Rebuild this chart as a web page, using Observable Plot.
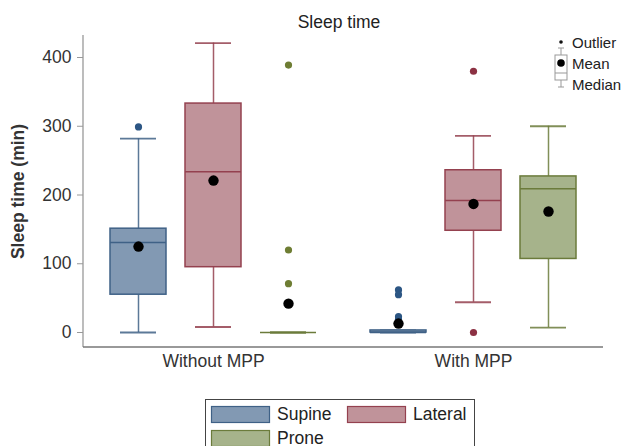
<!DOCTYPE html>
<html>
<head>
<meta charset="utf-8">
<script src="https://cdn.jsdelivr.net/npm/d3@7"></script>
<script src="https://cdn.jsdelivr.net/npm/@observablehq/plot@0.6"></script>
<style>
  html, body { margin: 0; padding: 0; background: #fff; overflow: hidden; }
  #wrap { position: relative; width: 625px; height: 446px; font-family: "Liberation Sans", Arial, sans-serif; }
  #chart { position: absolute; left: 0; top: 0; }
  #overlay { position: absolute; left: 0; top: 0; pointer-events: none; }
  [aria-label="y-axis label"] text { font-weight: bold; }
</style>
</head>
<body>
<div id="wrap">
  <div id="chart"></div>
  <svg id="overlay" width="625" height="446"></svg>
</div>
<script>
// ---- data ----
const title = "Sleep time";
const yLabel = "Sleep time (min)";
const groups = ["Without MPP", "With MPP"];
const positions = ["Supine", "Lateral", "Prone"];
const yTicks = [0, 100, 200, 300, 400];

// order: Without MPP (Supine, Lateral, Prone), With MPP (Supine, Lateral, Prone)
const boxGroup    = ["Without MPP", "Without MPP", "Without MPP", "With MPP", "With MPP", "With MPP"];
const boxPosition = ["Supine", "Lateral", "Prone", "Supine", "Lateral", "Prone"];
const whiskerLow  = [0,   8,   0, 0,   44,  7];
const q1          = [55,  95,  0, 0,   148, 107];
const median      = [131, 234, 0, 0,   192, 209];
const q3          = [151, 333, 0, 3,   236, 227];
const whiskerHigh = [282, 421, 0, 3,   286, 300];
const means       = [125, 221, 42, 13, 187, 176];

const outlierGroup    = ["Without MPP", "Without MPP", "Without MPP", "Without MPP", "With MPP", "With MPP", "With MPP", "With MPP", "With MPP", "With MPP"];
const outlierPosition = ["Supine", "Prone", "Prone", "Prone", "Supine", "Supine", "Supine", "Supine", "Lateral", "Lateral"];
const outlierValue    = [299, 389, 120, 71, 62, 55, 23, 19, 380, 0];

// styles
const fillColors    = ["#8299b3", "#c0939a", "#a6b38b"];
const strokeColors  = ["#3f6186", "#94414f", "#6b7b3b"];
const outlierColors = ["#2c5684", "#8c3143", "#6e7d33"];

// ---- tables ----
const boxes = boxGroup.map((g, i) => ({
  group: g, position: boxPosition[i],
  lo: whiskerLow[i], q1: q1[i], median: median[i], q3: q3[i], hi: whiskerHigh[i], mean: means[i]
}));
const outliers = outlierValue.map((v, i) => ({group: outlierGroup[i], position: outlierPosition[i], value: v}));

const chart = Plot.plot({
  width: 625,
  height: 380,
  marginLeft: 83,
  marginRight: 22,
  marginTop: 35,
  marginBottom: 33,
  style: {fontFamily: "Liberation Sans, Arial, sans-serif", fontSize: "17.5px", color: "#333", background: "white"},
  fx: {domain: groups, padding: 0, label: null},
  x: {domain: positions, paddingInner: 0.247, paddingOuter: 0.353, axis: null},
  y: {domain: [-21.8, 432]},
  marks: [
    Plot.axisY({ticks: yTicks, tickSize: 6, tickPadding: 6, stroke: "#999", fill: "#333",
      label: yLabel, labelAnchor: "center", labelOffset: 72, labelArrow: "none"}),
    Plot.axisFx({anchor: "bottom", tickSize: 0, tickPadding: 7, fill: "#333", label: null}),
    // whiskers
    Plot.ruleX(boxes, {fx: "group", x: "position", y1: "q3", y2: "hi",
      stroke: d => strokeColors[positions.indexOf(d.position)], strokeWidth: 1.5, strokeOpacity: 0.85}),
    Plot.ruleX(boxes, {fx: "group", x: "position", y1: "lo", y2: "q1",
      stroke: d => strokeColors[positions.indexOf(d.position)], strokeWidth: 1.5, strokeOpacity: 0.85}),
    Plot.tickY(boxes, {fx: "group", x: "position", y: "hi", insetLeft: 10, insetRight: 10,
      stroke: d => strokeColors[positions.indexOf(d.position)], strokeWidth: 1.8, strokeOpacity: 0.85}),
    Plot.tickY(boxes, {fx: "group", x: "position", y: "lo", insetLeft: 10, insetRight: 10,
      stroke: d => strokeColors[positions.indexOf(d.position)], strokeWidth: 1.8, strokeOpacity: 0.85}),
    // boxes
    Plot.barY(boxes, {fx: "group", x: "position", y1: "q1", y2: "q3",
      fill: d => fillColors[positions.indexOf(d.position)],
      stroke: d => strokeColors[positions.indexOf(d.position)], strokeWidth: 1.5}),
    Plot.tickY(boxes, {fx: "group", x: "position", y: "median",
      stroke: d => strokeColors[positions.indexOf(d.position)], strokeWidth: 1.5}),
    // outliers
    Plot.dot(outliers, {fx: "group", x: "position", y: "value", r: 3.6,
      fill: d => outlierColors[positions.indexOf(d.position)], stroke: "none"}),
    // means
    Plot.dot(boxes, {fx: "group", x: "position", y: "mean", r: 5.2, fill: "black", stroke: "none"})
  ]
});
document.getElementById("chart").appendChild(chart);

// ---- overlay: axis lines (from the plot's scales), title, key glyph, legend ----
const ov = d3.select("#overlay");
const font = "Liberation Sans, Arial, sans-serif";
const yRange = chart.scale("y").range;       // [bottom, top]
const fxRange = chart.scale("fx").range;     // [left, right]
const yBottom = Math.max(...yRange), yTop = Math.min(...yRange);
const xLeft = Math.min(...fxRange), xRight = Math.max(...fxRange);
ov.append("line").attr("x1", xLeft).attr("x2", xLeft).attr("y1", yTop).attr("y2", yBottom)
  .attr("stroke", "#999").attr("stroke-width", 1.3);
ov.append("line").attr("x1", xLeft).attr("x2", xRight).attr("y1", yBottom).attr("y2", yBottom)
  .attr("stroke", "#777").attr("stroke-width", 1.3);

ov.append("text").attr("x", 339).attr("y", 28).attr("text-anchor", "middle")
  .attr("font-family", font).attr("font-size", 17.5).attr("fill", "#222").text(title);

// key glyph (outlier / mean / median)
const kg = ov.append("g");
const gx = 561;
kg.append("circle").attr("cx", gx).attr("cy", 42).attr("r", 1.8).attr("fill", "#111");
kg.append("line").attr("x1", gx).attr("x2", gx).attr("y1", 48).attr("y2", 55).attr("stroke", "#999");
kg.append("line").attr("x1", gx - 3).attr("x2", gx + 3).attr("y1", 48).attr("y2", 48).attr("stroke", "#999");
kg.append("rect").attr("x", gx - 6).attr("y", 55).attr("width", 12).attr("height", 25)
  .attr("fill", "white").attr("stroke", "#999");
kg.append("line").attr("x1", gx - 6).attr("x2", gx + 6).attr("y1", 73).attr("y2", 73).attr("stroke", "#999");
kg.append("circle").attr("cx", gx).attr("cy", 63).attr("r", 3.8).attr("fill", "black");
kg.append("line").attr("x1", gx).attr("x2", gx).attr("y1", 80).attr("y2", 87).attr("stroke", "#999");
kg.append("line").attr("x1", gx - 3).attr("x2", gx + 3).attr("y1", 87).attr("y2", 87).attr("stroke", "#999");
const keyLabels = ["Outlier", "Mean", "Median"];
const keyY = [48, 69, 90];
keyLabels.forEach((t, i) => kg.append("text").attr("x", 572).attr("y", keyY[i])
  .attr("font-family", font).attr("font-size", 15).attr("fill", "#222").text(t));

// bottom legend
const lg = ov.append("g");
lg.append("rect").attr("x", 205.5).attr("y", 399.5).attr("width", 269).attr("height", 60)
  .attr("fill", "white").attr("stroke", "#444");
const legX = [211, 347, 211];
const legY = [406, 406, 430];
positions.forEach((p, i) => {
  lg.append("rect").attr("x", legX[i] + 0.5).attr("y", legY[i] + 0.5).attr("width", 58).attr("height", 16)
    .attr("fill", fillColors[i]).attr("stroke", strokeColors[i]).attr("stroke-width", 1.2);
  lg.append("text").attr("x", legX[i] + 66).attr("y", legY[i] + 13.5)
    .attr("font-family", font).attr("font-size", 17.5).attr("fill", "#222").text(p);
});
</script>
</body>
</html>
